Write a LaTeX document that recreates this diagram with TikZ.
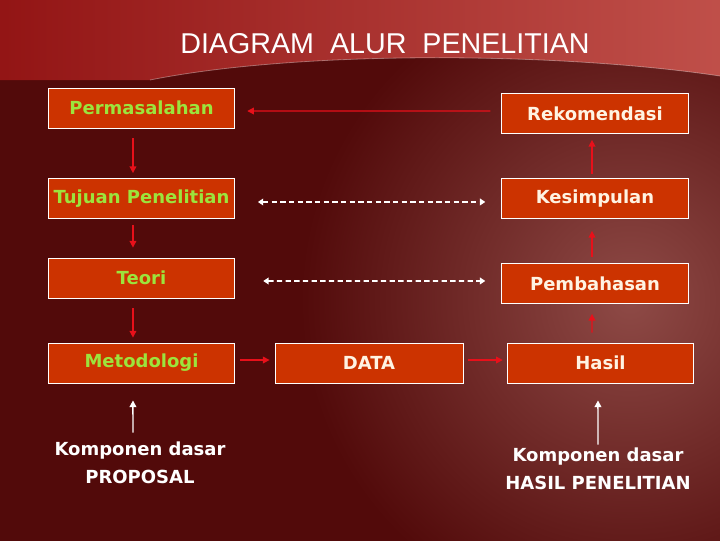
\documentclass[tikz,border=0pt]{standalone}
\usepackage{fontspec}
\usepackage{xcolor}
\usetikzlibrary{arrows.meta}
\setmainfont{DejaVu Sans}
\newfontfamily\titlefont{Liberation Sans}

\definecolor{bgdark}{HTML}{520A0A}
\definecolor{bgglow}{HTML}{8E4A46}
\definecolor{topred}{HTML}{921414}
\definecolor{topmid}{HTML}{6A0E0E}
\definecolor{topglow}{HTML}{C0504A}
\definecolor{boxfill}{HTML}{CC3300}
\definecolor{leftgreen}{HTML}{9CE43C}
\definecolor{rightcream}{HTML}{FFF3E2}
\definecolor{arrowred}{HTML}{E8101A}

\tikzset{
  stepbox/.style={draw=white, line width=0.6pt, fill=boxfill, minimum width=140pt,
    minimum height=30pt, inner sep=0pt, font=\fontsize{13.5}{16}\selectfont\bfseries},
  leftbox/.style={stepbox, text=leftgreen},
  rightbox/.style={stepbox, text=rightcream},
  redarrow/.style={arrowred, line width=1pt, -{Triangle[width=5pt,length=5pt]}},
  linkarrow/.style={white, line width=1.2pt, dash pattern=on 4pt off 2.5pt,
    {Triangle[width=5pt,length=4pt]}-{Triangle[width=5pt,length=4pt]}},
  basearrow/.style={white, line width=1.1pt, -{Triangle[width=5pt,length=5pt]}},
  footnote/.style={text=white, align=center, font=\fontsize{13.5}{21}\selectfont\bfseries}
}

\begin{document}
\begin{tikzpicture}[x=0.75pt, y=-0.75pt]

% background
\begin{scope}
  \clip (0,0) rectangle (720,540);
  \fill[bgdark] (-10,-10) rectangle (730,550);
  \shade[inner color=bgglow, outer color=bgdark] (630,300) circle (330);
  \shade[left color=topred, middle color=topmid, right color=topglow]
    (-10,-10) -- (730,-10) -- (730,76) -- (720,76) .. controls (560,52) and (300,50) .. (150,80) -- (-10,80) -- cycle;
  \draw[white, opacity=0.35, line width=0.6pt] (720,76) .. controls (560,52) and (300,50) .. (150,80);
\end{scope}
\useasboundingbox (0,0) rectangle (720,540);

\node[text=white, font=\titlefont\fontsize{21.5}{24}\selectfont] (title) at (385,44) {DIAGRAM\ \ ALUR\ \ PENELITIAN};

% left column
\node[leftbox] (perm) at (141.5,108) {Permasalahan};
\node[leftbox] (tujuan) at (141.5,198.5) {Tujuan Penelitian};
\node[leftbox] (teori) at (141.5,278) {Teori};
\node[leftbox] (metod) at (141.5,363) {Metodologi};

% middle and right column
\node[rightbox, minimum width=141pt] (data) at (369,363) {DATA};
\node[rightbox] (hasil) at (600.5,363) {Hasil};
\node[rightbox] (pembah) at (595,283.5) {Pembahasan};
\node[rightbox] (kesimp) at (595,198.5) {Kesimpulan};
\node[rightbox] (rekom) at (595,113.5) {Rekomendasi};

\node[footnote] (kompA) at (140,463) {Komponen dasar\\PROPOSAL};
\node[footnote] (kompB) at (598,469) {Komponen dasar\\HASIL PENELITIAN};

% flow
\draw[redarrow] ([xshift=-6.4pt,yshift=-7.5pt]perm.south) -- ([xshift=-6.4pt,yshift=3.75pt]tujuan.north);
\draw[redarrow] ([xshift=-6.4pt,yshift=-4.5pt]tujuan.south) -- ([xshift=-6.4pt,yshift=7.5pt]teori.north);
\draw[redarrow] ([xshift=-6.4pt,yshift=-7.5pt]teori.south) -- ([xshift=-6.4pt,yshift=3.75pt]metod.north);
\draw[redarrow] ([yshift=2.25pt,xshift=3.75pt]metod.east) -- ([yshift=2.25pt,xshift=-3.75pt]data.west);
\draw[redarrow] ([yshift=2.25pt,xshift=3.75pt]data.east) -- ([yshift=2.25pt,xshift=-3pt]hasil.west);
\draw[redarrow] ([xshift=-6.4pt,yshift=7.5pt]hasil.north) -- ([xshift=-2.25pt,yshift=-7.5pt]pembah.south);
\draw[redarrow] ([xshift=-2.25pt,yshift=4.5pt]pembah.north) -- ([xshift=-2.25pt,yshift=-9pt]kesimp.south);
\draw[redarrow] ([xshift=-2.25pt,yshift=3pt]kesimp.north) -- ([xshift=-2.25pt,yshift=-4.5pt]rekom.south);
\draw[redarrow] ([xshift=-8.25pt,yshift=1.9pt]rekom.west) -- ([xshift=9pt,yshift=-2.25pt]perm.east);

% links
\draw[linkarrow] ([xshift=17pt,yshift=-2.6pt]tujuan.east) -- ([xshift=-12pt,yshift=-2.6pt]kesimp.west);
\draw[linkarrow] ([xshift=21pt,yshift=-2.25pt]teori.east) -- ([xshift=-12pt,yshift=1.9pt]pembah.west);

\draw[basearrow] ([xshift=-5.25pt,yshift=3.5pt]kompA.north) -- ([xshift=-6.4pt,yshift=-12.75pt]metod.south);
\draw[basearrow] ([yshift=-1pt]kompB.north) -- ([xshift=-1.9pt,yshift=-12.75pt]hasil.south);

\end{tikzpicture}
\end{document}
